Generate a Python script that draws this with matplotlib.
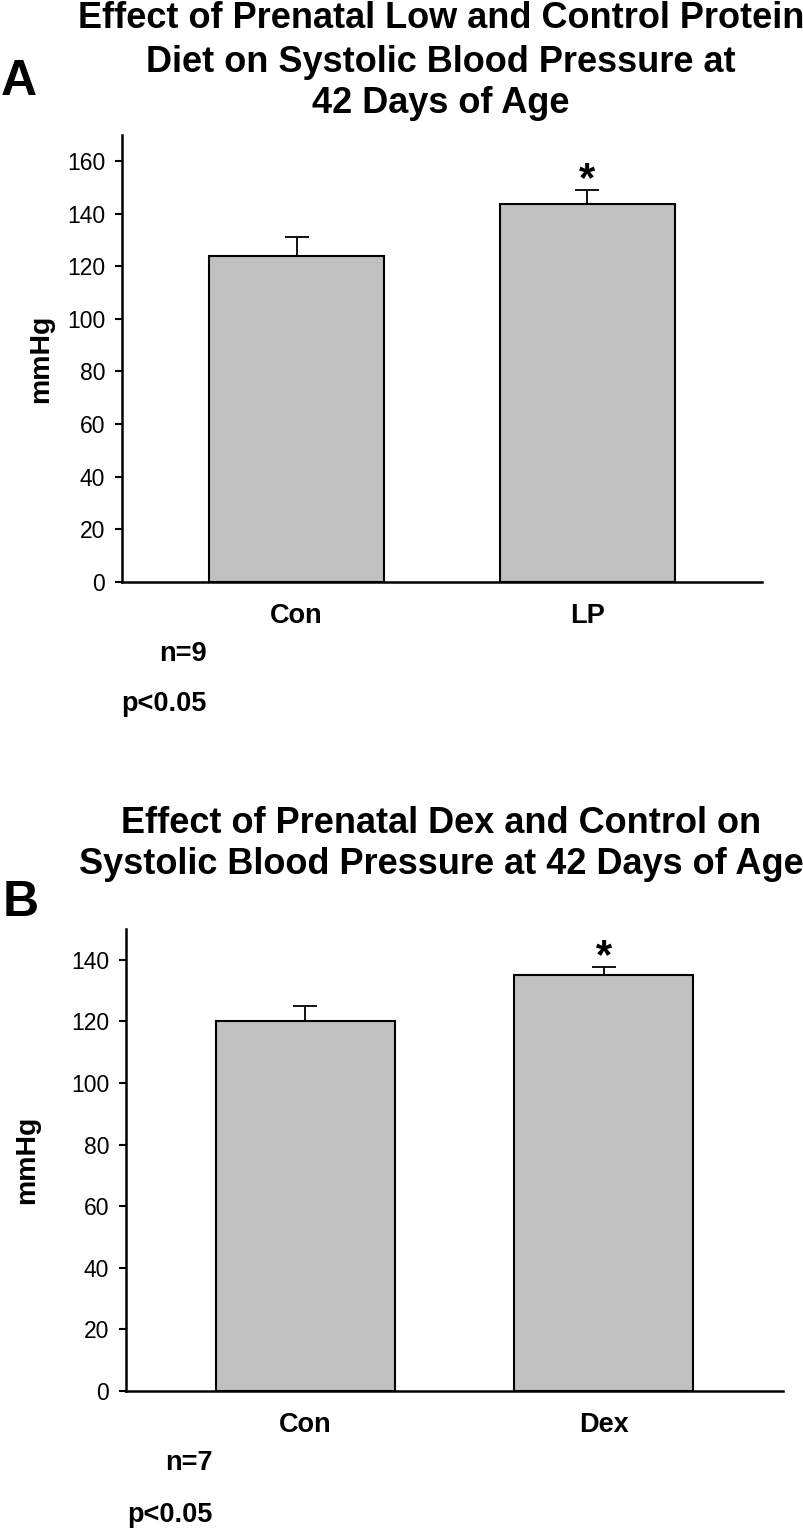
import matplotlib
matplotlib.use("Agg")
import matplotlib.pyplot as plt

plt.rcParams['font.family'] = ['Liberation Sans', 'DejaVu Sans']

# ---- data ----
groups_a = ["Con", "LP"]
means_a = [124, 143.6]
errs_a = [7.0, 5.6]
yticks_a = [0, 20, 40, 60, 80, 100, 120, 140, 160]
title_a = ["Effect of Prenatal Low and Control Protein",
           "Diet on Systolic Blood Pressure at",
           "42 Days of Age"]
n_a = "n=9"

groups_b = ["Con", "Dex"]
means_b = [120, 135]
errs_b = [5.0, 2.8]
yticks_b = [0, 20, 40, 60, 80, 100, 120, 140]
title_b = ["Effect of Prenatal Dex and Control on",
           "Systolic Blood Pressure at 42 Days of Age"]
n_b = "n=7"
p_text = "p<0.05"

W, H = 804, 1528
fig = plt.figure(figsize=(W / 100, H / 100), dpi=100)
fig.patch.set_facecolor("white")


def fx(px):
    return px / W


def fy(py):
    return 1 - py / H


def make_panel(rect, groups, means, errs, yticks, ylim_top, sig_idx):
    ax = fig.add_axes(rect)
    x = list(range(len(groups)))
    ax.bar(x, means, width=0.6, color="#c0c0c0", edgecolor="black",
           linewidth=1.5, zorder=2)
    lower = [0] * len(errs)
    ax.errorbar(x, means, yerr=[lower, errs], fmt="none", ecolor="black",
                elinewidth=1.3, capsize=8.5, capthick=1.3, zorder=1)
    ax.set_xlim(-0.6, 1.6)
    ax.set_ylim(0, ylim_top)
    ax.set_yticks(yticks)
    ax.set_xticks(x)
    ax.set_xticklabels(groups, fontsize=19.5, fontweight="bold")
    ax.tick_params(axis="x", length=0, pad=15)
    ax.tick_params(axis="y", length=5, width=1.5, pad=7, labelsize=16.5,
                   direction="out")
    for s in ["top", "right"]:
        ax.spines[s].set_visible(False)
    for s in ["left", "bottom"]:
        ax.spines[s].set_linewidth(1.8)
    ax.set_ylabel("mmHg", fontsize=20.5, fontweight="bold")
    for i in sig_idx:
        ax.annotate("*", xy=(x[i], means[i] + errs[i]), xytext=(0, -1),
                    textcoords="offset points", ha="center", va="baseline",
                    fontsize=30, fontweight="bold")
    return ax


# Panel A
axA = make_panel([fx(122), fy(581.7), fx(762 - 122), (581.7 - 135) / H],
                 groups_a, means_a, errs_a, yticks_a, 170, [1])
axA.yaxis.set_label_coords(-0.106, 0.5)
baselines_a = [28.3, 71.7, 113.3]
for line, b in zip(title_a, baselines_a):
    fig.text(fx(441), fy(b), line, ha="center", va="baseline",
             fontsize=26, fontweight="bold")
fig.text(fx(1), fy(95), "A", ha="left", va="baseline", fontsize=36,
         fontweight="bold")
fig.text(fx(207), fy(660.5), n_a, ha="right", va="baseline", fontsize=19.5,
         fontweight="bold")
fig.text(fx(207), fy(711), p_text, ha="right", va="baseline", fontsize=19.5,
         fontweight="bold")

# Panel B
axB = make_panel([fx(126), fy(1391), fx(783 - 126), (1391 - 929) / H],
                 groups_b, means_b, errs_b, yticks_b, 150, [1])
axB.yaxis.set_label_coords(-0.13, 0.5)
baselines_b = [833.3, 874.3]
for line, b in zip(title_b, baselines_b):
    fig.text(fx(441), fy(b), line, ha="center", va="baseline",
             fontsize=26, fontweight="bold")
fig.text(fx(3), fy(916), "B", ha="left", va="baseline", fontsize=36,
         fontweight="bold")
fig.text(fx(213), fy(1470), n_b, ha="right", va="baseline", fontsize=19.5,
         fontweight="bold")
fig.text(fx(213), fy(1522.5), p_text, ha="right", va="baseline", fontsize=19.5,
         fontweight="bold")

fig.savefig("out.png", dpi=100, facecolor="white")
